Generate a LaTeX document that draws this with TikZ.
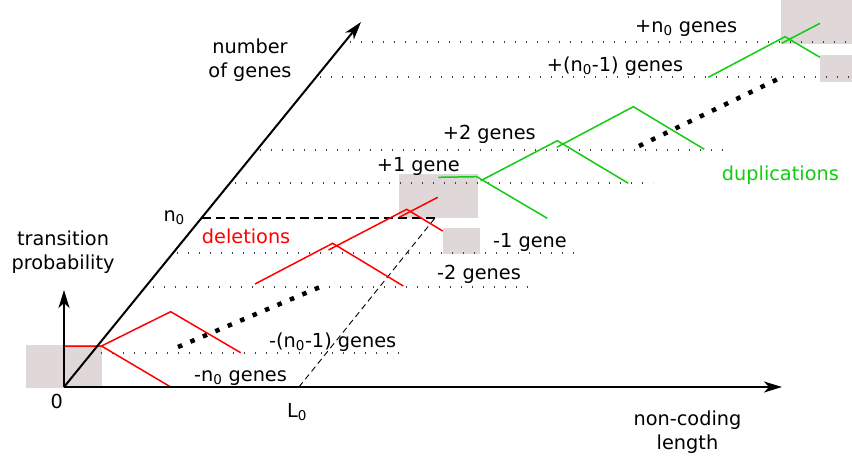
\documentclass[tikz,border=0pt]{standalone}
\usepackage{fontspec}
\setmainfont{DejaVu Sans}
\usetikzlibrary{arrows.meta}
\definecolor{figInk}{HTML}{000000}
\definecolor{figDot}{HTML}{404040}
\definecolor{figRed}{HTML}{FF0000}
\definecolor{figGreen}{HTML}{11CC11}
\definecolor{figBox}{HTML}{E0D8D8}
\tikzset{
  fig/axis/.style={-{Stealth[length=18pt,width=11pt,inset=5pt]}, draw=figInk,
    line width=2pt},
  fig/box/.style={fill=figBox},
  fig/level/.style={draw=figDot, line width=1.2pt,
    dash pattern=on 1.2pt off 9.8pt},
  fig/ref/.style={draw=figInk, line width=1.2pt, dash pattern=on 9pt off 5pt},
  fig/guide/.style={draw=figInk, line width=0.9pt, dash pattern=on 6pt off 4pt},
  fig/more/.style={draw=figInk, line width=4.5pt, dash pattern=on 4.5pt off 9pt},
  fig/del/.style={draw=figRed, line width=1.5pt},
  fig/dup/.style={draw=figGreen, line width=1.5pt},
  fig/label/.style={font=\fontsize{19.3}{24}\selectfont, text=figInk,
    inner sep=0pt},
  fig/side/.style={fig/label, align=center},
}

\begin{document}
\begin{tikzpicture}[x=1pt, y=-1pt]
\useasboundingbox (0,0) rectangle (852,461);

% axes end points
\coordinate (O) at (64,387);
\coordinate (lenTip) at (782,387);
\coordinate (probTip) at (64,290);
\coordinate (geneTip) at (361,22);
\coordinate (L0) at (299,387);
\coordinate (n0) at (201.5,218);
\coordinate (n0L0) at (435,218);

% transition probability bars
\fill[fig/box] (26,345) rectangle (101.5,388);
\fill[fig/box] (399,174) rectangle (478,218);
\fill[fig/box] (443,228) rectangle (480,254);
\fill[fig/box] (781,0) rectangle (852,44);
\fill[fig/box] (820,55) rectangle (852,82);

% gene count levels
\foreach \y/\xa/\xb in {42/350/852, 77/320/852, 150/260/728, 183/235/653,
    253/177/577, 287/153/528, 353/101/407} {
    \draw[fig/level] (\xa,\y) -- (\xb,\y);
}
\draw[fig/ref] (n0) -- (n0L0);
\draw[fig/guide] (L0) -- (n0L0);

% deletions
\draw[fig/del] (64,346) -- (101.5,346) -- (170.7,311.7) -- (240.7,352.7);
\draw[fig/del] (101.5,346) -- (170.7,387);
\draw[fig/del] (255,284) -- (332.7,243.3) -- (403.3,286);
\draw[fig/del] (328.5,250) -- (406.7,209.3) -- (442.7,231);
\draw[fig/del] (399.3,217.3) -- (437.7,197.3);
\draw[fig/more] (178,347) -- (320,287);

% duplications
\draw[fig/dup] (438.3,177.3) -- (476.7,176.7) -- (547.3,218.3);
\draw[fig/dup] (480.7,180.7) -- (557.3,140.7) -- (628.3,183.3);
\draw[fig/dup] (556.7,147.3) -- (633.3,106.7) -- (704.3,149.3);
\draw[fig/dup] (708.3,77.3) -- (785,36.7) -- (820,57.3);
\draw[fig/dup] (781.7,43.3) -- (820,23.3);
\draw[fig/more] (639,146) -- (778,79);

\draw[fig/axis] (O) -- (lenTip);
\draw[fig/axis] (O) -- (probTip);
\draw[fig/axis] (O) -- (geneTip);

% axis labels
\node[fig/side] (lenLab) at (687.5,432) {non-coding\\length};
\node[fig/side] (probLab) at (63,252) {transition\\probability};
\node[fig/side] (geneLab) at (250,60) {number\\of genes};
\node[fig/label, anchor=base] (zeroLab) at (56.7,408.3) {0};
\node[fig/label, anchor=base west] (L0Lab) at (287,417.3) {L\textsubscript{0}};
\node[fig/label, anchor=base west] (n0Lab) at (163.3,221.7) {n\textsubscript{0}};
\node[fig/label, anchor=base west, text=figRed] (delLab) at (201.7,243.3) {deletions};
\node[fig/label, anchor=base west, text=figGreen] (dupLab) at (721.7,180) {duplications};

% level labels
\node[fig/label, anchor=base west] (p0) at (635,32.3) {+n\textsubscript{0} genes};
\node[fig/label, anchor=base west] (p1) at (546.7,71) {+(n\textsubscript{0}-1) genes};
\node[fig/label, anchor=base west] (p2) at (442.7,139.3) {+2 genes};
\node[fig/label, anchor=base west] (p3) at (376.7,171.7) {+1 gene};
\node[fig/label, anchor=base west] (m3) at (493,247.7) {-1 gene};
\node[fig/label, anchor=base west] (m2) at (437,279.3) {-2 genes};
\node[fig/label, anchor=base west] (m1) at (269,347.7) {-(n\textsubscript{0}-1) genes};
\node[fig/label, anchor=base west] (m0) at (194,381) {-n\textsubscript{0} genes};
\end{tikzpicture}
\end{document}
